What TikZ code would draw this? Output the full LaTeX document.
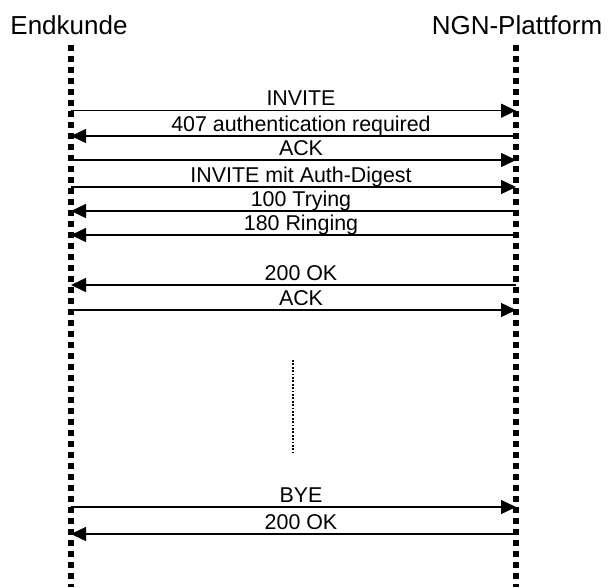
\documentclass[tikz,border=0pt]{standalone}
\usepackage{fontspec}
\setmainfont{Liberation Sans}
\usepackage{tikz}
\usetikzlibrary{arrows.meta, positioning}
\tikzset{
  lifeline/.style={line width=6pt, dash pattern=on 6pt off 5pt},
  msgarrow/.style={line width=1.4pt, -{Triangle[length=15pt,width=14pt]}},
  msglabel/.style={font=\fontsize{21.4}{24}\selectfont, anchor=base, inner sep=0pt},
  partylabel/.style={font=\fontsize{26}{30}\selectfont, anchor=base, inner sep=0pt}
}

\begin{document}
\begin{tikzpicture}[x=1pt,y=-1pt]
  \useasboundingbox (0,0) rectangle (608,587);
  \node[partylabel] (kunde) at (69,34) {Endkunde};
  \node[partylabel] (ngn) at (517,34) {NGN-Plattform};
  \coordinate (kundetop) at (71,45);
  \coordinate (kundebot) at (71,587);
  \coordinate (ngntop) at (516,45);
  \coordinate (ngnbot) at (516,587);
  \draw[lifeline] (kundetop) -- (kundebot);
  \draw[lifeline] (ngntop) -- (ngnbot);
  \foreach \y/\txt [count=\i] in {110.7/INVITE, 160/ACK, 187/INVITE mit Auth-Digest, 310/ACK, 507/BYE}{
    \coordinate (ka\i) at (71,\y);
    \coordinate (na\i) at (516,\y);
    \node[msglabel] (req\i) at (301,\y-5) {\txt};
    \draw[msgarrow] (ka\i) -- (na\i);
  }
  \foreach \y/\txt [count=\i] in {136/407 authentication required, 211/100 Trying, 235/180 Ringing, 285/200 OK, 534/200 OK}{
    \coordinate (kb\i) at (71,\y);
    \coordinate (nb\i) at (516,\y);
    \node[msglabel] (resp\i) at (301,\y-5) {\txt};
    \draw[msgarrow] (nb\i) -- (kb\i);
  }
  \coordinate (pausetop) at (293,360);
  \coordinate (pausebot) at (293,453);
  \draw[line width=1.8pt, dash pattern=on 1.8pt off 1.6pt] (pausetop) -- (pausebot);
\end{tikzpicture}
\end{document}
